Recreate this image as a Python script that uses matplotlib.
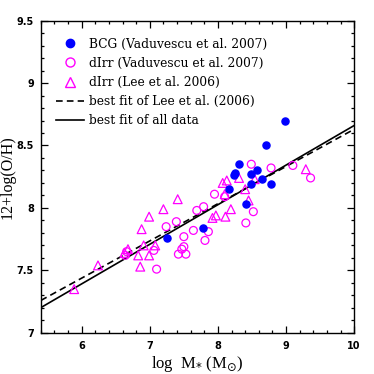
import numpy as np
import matplotlib
matplotlib.use("Agg")
import matplotlib.pyplot as plt
from matplotlib.lines import Line2D
from matplotlib.ticker import MultipleLocator

# BCG (Vaduvescu et al. 2007)
bcg_x = [8.99, 8.70, 8.31, 8.25, 8.23, 8.49, 8.57, 8.64, 8.49, 8.78, 8.17, 8.41, 7.78, 7.25]
bcg_y = [8.70, 8.50, 8.35, 8.28, 8.26, 8.27, 8.30, 8.23, 8.19, 8.19, 8.15, 8.03, 7.84, 7.76]

# dIrr (Vaduvescu et al. 2007)
dirr_v_x = [8.49, 8.78, 9.10, 9.36, 7.95, 8.10, 7.79, 7.69, 8.52, 8.41, 7.39, 7.24,
            7.64, 7.86, 7.50, 7.81, 7.50, 7.06, 7.47, 7.42, 7.53, 7.10, 6.66, 6.64]
dirr_v_y = [8.35, 8.32, 8.34, 8.24, 8.11, 8.09, 8.01, 7.98, 7.97, 7.88, 7.89, 7.85,
            7.82, 7.81, 7.77, 7.74, 7.69, 7.66, 7.67, 7.63, 7.63, 7.51, 7.65, 7.62]

# dIrr (Lee et al. 2006)
dirr_l_x = [9.29, 8.31, 8.54, 8.07, 8.13, 8.40, 8.10, 8.45, 7.41, 7.20, 6.99, 6.88, 8.19,
            7.92, 7.97, 8.11, 6.68, 6.63, 6.83, 6.99, 6.91, 7.08, 6.86, 6.24, 5.89]
dirr_l_y = [8.31, 8.24, 8.23, 8.20, 8.22, 8.15, 8.11, 8.06, 8.07, 7.99, 7.93, 7.83, 7.99,
            7.92, 7.94, 7.93, 7.67, 7.64, 7.62, 7.62, 7.70, 7.70, 7.53, 7.54, 7.35]

# linear fits: 12+log(O/H) = a + b * log M*
fit_lee = (5.65, 0.298)
fit_all = (5.49, 0.317)

BLUE = "#0000ff"
MAGENTA = "#ff00ff"
SERIF = "Liberation Serif"
LEG_FONT = "DejaVu Serif"

fig = plt.figure(figsize=(3.74, 3.74), dpi=100)
ax = fig.add_axes([0.109, 0.110, 0.838, 0.835])

xx = np.linspace(5.4, 10, 50)
ax.plot(xx, fit_lee[0] + fit_lee[1] * xx, color="black", lw=1.2, ls=(0, (4, 2.5)))
ax.plot(xx, fit_all[0] + fit_all[1] * xx, color="black", lw=1.2)

ax.scatter(dirr_l_x, dirr_l_y, marker="^", s=40, facecolors="none",
           edgecolors=MAGENTA, linewidths=0.9, zorder=3)
ax.scatter(dirr_v_x, dirr_v_y, marker="o", s=32, facecolors="none",
           edgecolors=MAGENTA, linewidths=0.9, zorder=3)
ax.scatter(bcg_x, bcg_y, marker="o", s=26, color=BLUE, zorder=4)

ax.set_xlim(5.4, 10)
ax.set_ylim(7, 9.5)
ax.xaxis.set_minor_locator(MultipleLocator(0.2))
ax.yaxis.set_minor_locator(MultipleLocator(0.1))
ax.tick_params(which="both", direction="in", top=True, right=True, width=0.9)
ax.tick_params(which="major", length=5, labelsize=7, pad=6)
ax.tick_params(axis="y", which="major", pad=5)
ax.tick_params(which="minor", length=2.5)
ax.set_yticks([7, 7.5, 8, 8.5, 9, 9.5])
ax.set_yticklabels(["7", "7.5", "8", "8.5", "9", "9.5"], fontweight="bold")
ax.set_xticks([6, 7, 8, 9, 10])
ax.set_xticklabels(["6", "7", "8", "9", "10"], fontweight="bold")
for s in ax.spines.values():
    s.set_linewidth(1.0)

ax.set_xlabel(r"log  M$_{*}$ (M$_{\odot}$)", family=SERIF, fontsize=12)
ax.set_ylabel("12+log(O/H)", family=SERIF, fontsize=11.5)
ax.yaxis.set_label_coords(-0.08, 0.5)
ax.xaxis.set_label_coords(0.5, -0.068)

handles = [
    Line2D([], [], ls="none", marker="o", color=BLUE, markersize=6),
    Line2D([], [], ls="none", marker="o", mfc="none", mec=MAGENTA, markersize=6.5),
    Line2D([], [], ls="none", marker="^", mfc="none", mec=MAGENTA, markersize=7),
    Line2D([], [], color="black", lw=1.2, ls=(0, (4, 2.5))),
    Line2D([], [], color="black", lw=1.2),
]
labels = ["BCG (Vaduvescu et al. 2007)", "dIrr (Vaduvescu et al. 2007)",
          "dIrr (Lee et al. 2006)", "best fit of Lee et al. (2006)",
          "best fit of all data"]
ax.legend(handles, labels, loc="upper left", bbox_to_anchor=(0.03, 0.965),
          frameon=False, borderpad=0, handlelength=2.3, handletextpad=0.35,
          labelspacing=0.5, prop={"family": LEG_FONT, "size": 8.8})

fig.savefig("out.png", dpi=100)
